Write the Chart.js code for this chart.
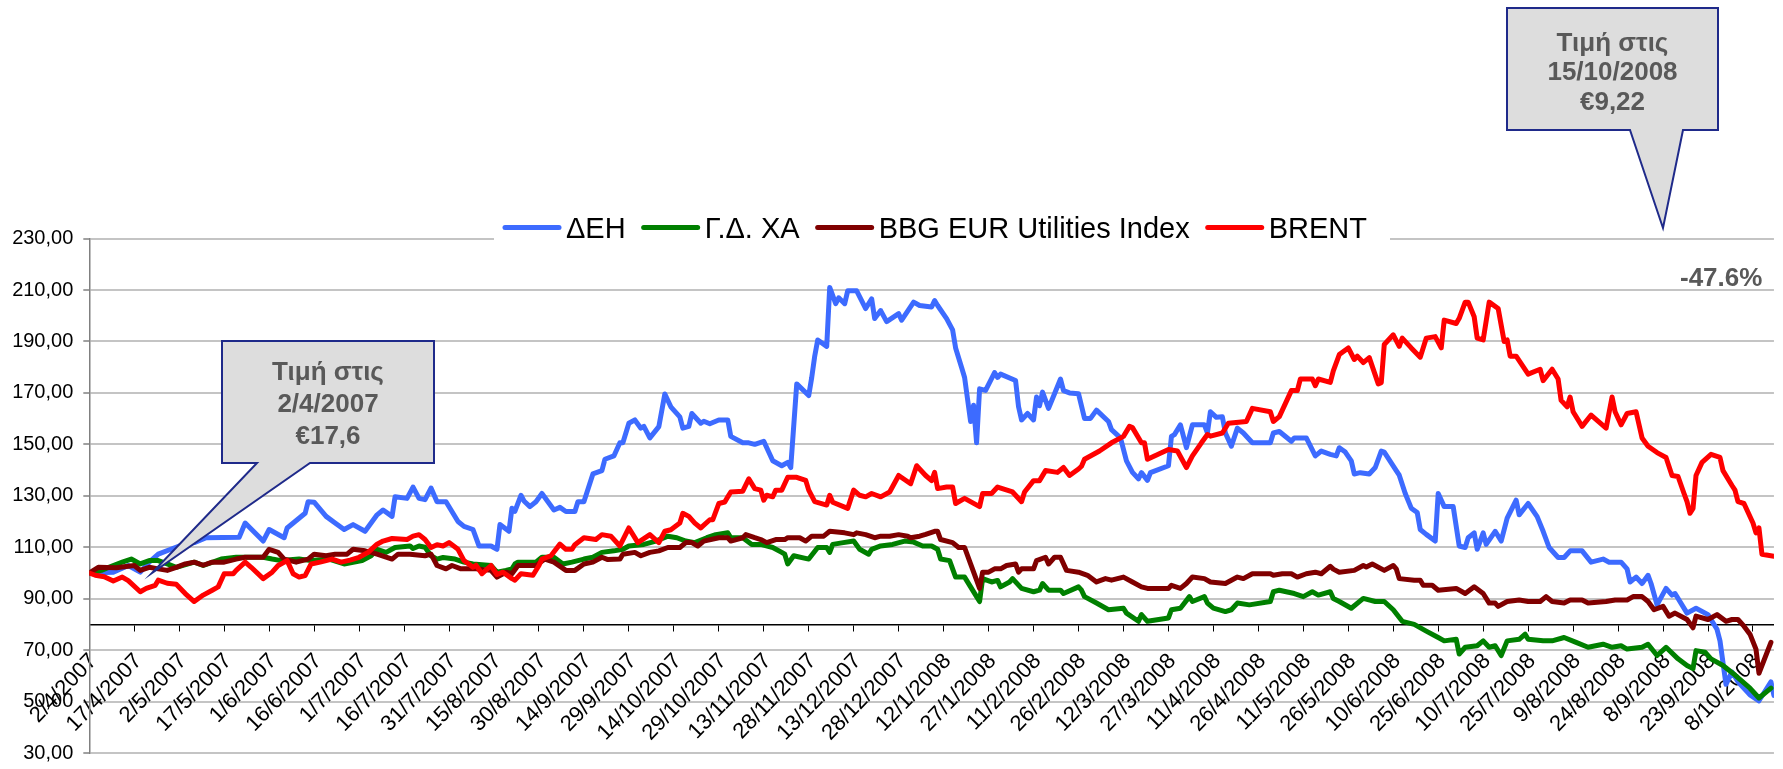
<!DOCTYPE html>
<html>
<head>
<meta charset="utf-8">
<script src="https://cdn.jsdelivr.net/npm/chart.js@4/dist/chart.umd.min.js"></script>
<style>
  html, body { margin: 0; padding: 0; background: #fff; overflow: hidden; }
  #wrap { width: 1783px; height: 769px; overflow: hidden; }
</style>
</head>
<body>
<div id="wrap"><canvas id="chart" width="1790" height="775"></canvas></div>
<script>
// x = calendar days after 2/4/2007, y = value rebased to 100
const tickLabels = ['2/4/2007', '17/4/2007', '2/5/2007', '17/5/2007', '1/6/2007', '16/6/2007', '1/7/2007',
  '16/7/2007', '31/7/2007', '15/8/2007', '30/8/2007', '14/9/2007', '29/9/2007', '14/10/2007', '29/10/2007',
  '13/11/2007', '28/11/2007', '13/12/2007', '28/12/2007', '12/1/2008', '27/1/2008', '11/2/2008', '26/2/2008',
  '12/3/2008', '27/3/2008', '11/4/2008', '26/4/2008', '11/5/2008', '26/5/2008', '10/6/2008', '25/6/2008',
  '10/7/2008', '25/7/2008', '9/8/2008', '24/8/2008', '8/9/2008', '23/9/2008', '8/10/2008'];

const seriesNames = ['ΔΕΗ', 'Γ.Δ. ΧΑ', 'BBG EUR Utilities Index', 'BRENT'];

const deh = [[0,100],[8,100.3],[13,102.9],[17,100.3],[20,104.2],[23,107.3],[30,110.5],[35,111.8],[39,113.7],
  [50,113.9],[52,119.4],[58,112.4],[60,116.9],[65,113.7],[66,117.5],[72,123.2],[73,127.7],[75,127.5],[79,122],
  [82,119.4],[85,116.9],[88,118.8],[92,116.2],[96,122.6],[98,124.5],[101,122],[102,129.6],[106,129],[108,133.4],
  [110,129],[112,128.5],[114,133],[116,127.7],[119,127.7],[123,120],[125,118.1],[128,116.9],[130,110.5],[134,110.5],
  [136,109.2],[137,118.8],[140,116.2],[141,125.2],[142,124],[144,130.2],[145,128],[147,125.8],[149,127.7],[151,130.9],
  [155,124.5],[157,125.5],[159,123.9],[162,123.9],[163,127.7],[165,127.7],[168,138.5],[171,139.8],[172,144.2],
  [175,145.5],[177,150.6],[178,150.6],[180,158.2],[182,159.5],[184,156.3],[185,157],[187,152.5],[190,156.9],
  [192,169.6],[194,164.6],[197,160.7],[198,156.3],[200,157],[201,162],[204,158.2],[205,159],[207,158],[210,159.5],
  [213,159.5],[214,153.1],[218,150.6],[220,150.6],[222,150],[225,151.2],[228,143.6],[231,141.7],[233,143],[234,141],
  [236,173.5],[240,169],[241,176],[242,184.3],[243,190.6],[246,188.1],[247,211],[249,204.7],[250,207],[252,204.7],
  [253,209.7],[256,209.7],[259,202.8],[261,206.6],[262,198.9],[264,202],[266,197.7],[270,200.8],[271,198.3],
  [275,205.3],[277,204],[281,203.4],[282,205.9],[283,204],[286,198.9],[288,194.5],[289,187.5],[291,179.9],
  [292,176],[294,158.9],[295,165.2],[296,150.6],[297,171.6],[299,171],[302,177.9],[303,176],[304,177.3],
  [309,174.8],[310,164.6],[311,159.5],[313,162],[315,159.5],[316,168.4],[317,165],[318,170.3],[320,164],
  [322,169.7],[324,175.4],[325,170.9],[327,170],[330,169.7],[332,160.1],[334,160.1],[336,163.3],[340,158.9],
  [341,155.7],[344,152.5],[346,143.6],[348,139.1],[350,136.6],[351,139],[353,136],[354,139],[360,141.7],
  [361,153.1],[362,153.8],[364,157.6],[366,148.7],[368,157.6],[372,157.6],[373,154.5],[374,162.7],[376,160.5],
  [378,160.7],[379,154.4],[381,149.3],[383,156.3],[385,154.4],[388,150.6],[394,150.6],[395,154.4],[397,155],
  [401,151.2],[402,152.5],[406,152.5],[409,145.5],[411,147.4],[414,146.1],[416,145.5],[417,148.7],[419,147],
  [421,143.6],[422,138.5],[424,139],[427,138.5],[429,141],[431,147.4],[432,147],[436,139.8],[437,138],[439,130.9],
  [441,125.2],[443,123.5],[444,116.9],[446,115],[449,112.4],[450,130.9],[452,125.8],[455,125.8],[457,110.5],
  [459,109.9],[460,113.7],[462,115.6],[463,109.2],[465,115.6],[466,111.1],[469,116.2],[471,112.4],[473,121.3],
  [476,128.3],[477,122.6],[480,127],[483,121.9],[485,116.2],[487,109.9],[490,106],[492,106],[494,108.6],
  [498,108.6],[501,104.2],[505,105.4],[507,104.2],[511,104.2],[513,101.6],[514,96.5],[516,98.4],[518,95.9],
  [520,99.1],[521,95.9],[523,87.6],[526,94],[528,91.4],[529,92],[533,84.4],[536,86.3],[540,83.8],[543,78.1],
  [544,73.6],[546,56.7],[548,61.5],[550,57.7],[554,52.6],[557,50.3],[561,57.7],[562,52.4]];

const gdxa = [[0,100],[4,101],[8,102.9],[11,104.2],[14,105.4],[17,103.5],[20,104.8],[23,104.8],[26,103.5],
  [29,102.2],[35,104.2],[38,102.9],[44,105.4],[49,106.1],[58,106.1],[61,105.4],[64,104.8],[70,105.4],[74,104.8],
  [80,105.4],[85,103.5],[91,104.8],[94,106.7],[96,109.2],[99,108],[102,109.9],[107,110.5],[108,109.5],[110,110.5],
  [112,110],[114,106.7],[116,105.4],[118,106],[122,105.4],[125,104.2],[128,103.5],[134,102.9],[136,100.3],
  [139,101],[141,101.6],[142,103.5],[143,104.2],[149,104.2],[151,106.1],[155,106.1],[158,103.5],[161,104.2],
  [165,105.4],[168,106.1],[171,108],[175,108.6],[178,109.2],[180,110.5],[185,111.1],[189,112.4],[193,114.3],
  [196,113.7],[199,112.4],[202,111.8],[206,113.7],[209,114.9],[213,115.6],[214,113.7],[218,113.7],[221,111.1],
  [224,111.1],[228,109.9],[231,108],[232,107.3],[233,103.5],[235,106.7],[240,105.4],[243,109.9],[246,109.9],
  [247,108],[248,111.1],[251,111.7],[255,112.4],[257,109.2],[260,107.3],[261,109.2],[264,110.5],[268,111.1],
  [272,112.4],[275,112],[278,110.5],[281,110.5],[283,109.2],[284,105.4],[287,104.8],[289,98.4],[292,98.4],
  [294,94.6],[296,90.8],[297,88.9],[298,97.8],[301,96.5],[303,97.1],[304,94.6],[307,96.5],[308,97.8],[311,94],
  [315,92.7],[317,93.3],[318,95.9],[320,93.3],[324,93.3],[325,92],[330,94.6],[331,93.3],[332,90.8],[336,88.3],
  [340,85.7],[345,86.3],[346,84.4],[350,81.2],[351,83.8],[353,81.2],[360,82.5],[361,85.7],[364,86.3],[367,90.8],
  [368,88.9],[372,90.8],[373,88.3],[375,86.3],[379,85],[381,85.7],[383,88.3],[387,87.6],[394,88.9],[395,92.7],
  [397,93.3],[402,92],[405,90.8],[408,92.7],[410,91.4],[414,92.7],[415,90.1],[417,88.9],[421,86.3],[425,90.1],
  [429,88.9],[432,88.9],[435,85.7],[438,81.2],[442,80],[446,77.4],[450,74.9],[452,73.6],[456,74.2],[457,68.5],
  [459,71.1],[463,71.7],[465,73.6],[467,71.1],[469,71.7],[471,67.9],[473,73.6],[477,74.2],[479,76.2],[480,74.2],
  [485,73.6],[488,73.6],[492,74.9],[496,73],[500,71.1],[505,72.3],[508,71.1],[511,71.7],[513,70.4],[518,71.1],
  [520,72.3],[523,67.9],[526,71.1],[530,66.6],[533,64],[535,62.8],[536,69.8],[539,69.2],[541,66.6],[545,64],
  [549,60.3],[554,55.2],[557,51.4],[561,55.2]];

const bbg = [[0,100],[3,102.2],[9,102],[15,102.9],[17,101],[20,102.2],[23,101.6],[26,101],[29,102.2],[32,103.5],
  [35,104.2],[38,103],[41,104.2],[45,104.2],[49,105.4],[52,106.1],[58,106.1],[60,109.2],[63,108],[65,105.4],
  [69,104.2],[73,105.4],[75,107.3],[79,106.7],[82,107.3],[86,107.3],[88,109.2],[92,108.6],[94,108],[96,107.3],
  [101,105.4],[103,107.3],[107,107.3],[112,106.7],[114,107.3],[116,102.9],[119,101.6],[121,102.9],[124,101.6],
  [129,101.6],[134,101],[136,98.4],[139,100.3],[141,99.7],[143,102.9],[149,102.9],[152,105.4],[155,104.2],
  [159,101],[162,101],[165,103.5],[168,104.2],[171,106.1],[173,105.2],[177,105.4],[178,107.3],[182,108],
  [184,106.7],[187,108],[190,108.6],[193,109.9],[197,109.9],[199,111.8],[201,111.8],[203,110.5],[205,112.4],
  [210,113.7],[213,113.7],[214,112.4],[218,113.7],[219,114.9],[222,113.7],[224,113],[226,111.8],[229,113],
  [232,113],[233,113.7],[237,113.7],[239,112.4],[241,114.3],[245,114.3],[247,116.2],[252,115.6],[255,114.9],
  [256,115.6],[259,114.9],[262,113.7],[264,114.3],[267,114.3],[270,114.9],[273,114.3],[274,113.7],[277,114.3],
  [279,115],[282,116.2],[283,116.2],[284,113],[288,111.8],[290,109.9],[292,109.9],[294,103.5],[296,97.2],
  [297,94],[298,100.3],[300,100.3],[302,101.6],[304,101.6],[306,102.9],[309,103.5],[310,100.3],[311,101.6],
  [315,101.6],[316,104.8],[319,106.1],[320,103.5],[322,106.1],[324,106.1],[326,101],[330,100.3],[333,99.1],
  [336,96.5],[339,97.8],[341,97.2],[345,98.4],[348,96.5],[351,94.6],[353,94],[360,94],[361,95.2],[364,94],
  [366,95.9],[368,98.4],[372,97.8],[374,96.5],[379,95.9],[383,98.4],[385,97.8],[388,99.7],[394,99.7],[395,99.1],
  [398,99.7],[401,99.7],[403,98.4],[406,99.7],[409,100.3],[411,99.7],[414,102.6],[415,101.5],[417,100.3],
  [422,101],[425,102.9],[426,102.3],[428,103.5],[432,101],[435,102.9],[436,101.6],[437,97.8],[442,97.2],
  [444,97.2],[445,95.2],[448,95.2],[450,93.3],[456,94],[459,92],[462,94.6],[465,92],[467,88.3],[469,88.3],
  [470,87],[473,88.9],[477,89.5],[480,88.9],[484,88.9],[486,90.8],[488,88.9],[492,88.3],[494,89.5],[498,89.5],
  [500,88.3],[506,88.9],[509,89.5],[513,89.5],[515,90.8],[518,90.8],[520,88.9],[522,85.7],[525,87],[527,83.2],
  [529,84.4],[533,81.9],[535,78.7],[536,83.2],[540,81.9],[543,83.8],[546,81.2],[548,81.9],[550,81.9],[552,79.3],
  [554,76.2],[556,70.4],[557,61],[561,73]];

const brent = [[0,100],[2,99.1],[5,98.5],[8,96.9],[11,98.4],[13,97],[17,92.7],[19,94],[22,95.2],[23,97.2],
  [26,96],[29,95.6],[32,92],[35,88.9],[38,91.4],[41,93.3],[43,94.6],[45,99.7],[48,99.7],[49,101],[52,104.2],
  [54,102.2],[58,97.8],[61,100.3],[63,102.9],[66,104.8],[68,99.7],[70,98.4],[72,99],[74,103.5],[77,104.2],
  [81,105.4],[84,104.2],[87,105],[90,106.1],[93,108],[96,111.2],[98,112.4],[101,113.4],[106,113],[108,114.3],
  [110,114.9],[112,113],[114,109.9],[116,111],[118,110.5],[120,111.8],[123,109.2],[125,104.8],[128,102.2],
  [129,103],[131,99.7],[134,102.9],[136,99.4],[138,100.3],[141,97.8],[142,97.2],[144,99.7],[148,99.1],
  [150,102.9],[151,105.4],[154,106.7],[157,111.2],[159,109.2],[161,109.2],[162,111],[165,113.7],[169,113],
  [171,114.9],[174,114.3],[177,110.5],[180,117.5],[183,111.8],[187,114.9],[190,111.8],[192,116.2],[194,116.8],
  [197,119.4],[198,123.2],[200,122],[202,119.4],[204,117.5],[207,120.7],[208,120.7],[210,127],[212,127.6],
  [213,129.6],[214,131.5],[218,131.8],[220,136.6],[222,132.8],[224,132.2],[225,128.3],[226,130.2],[228,129.6],
  [229,132.2],[231,132.2],[233,137.2],[236,137.2],[239,136],[240,132.2],[242,127.7],[246,126.4],[247,130.2],
  [248,127.5],[253,125.1],[255,132.2],[257,130.2],[259,129.6],[261,130.9],[264,129.6],[267,131.5],[270,137.9],
  [274,134.7],[276,141.7],[279,137.9],[281,135.9],[282,139.1],[283,132.8],[286,133.4],[288,133.4],[289,127],
  [292,129],[297,125.8],[298,130.9],[301,130.9],[303,133.4],[308,131.5],[311,127.7],[312,131.5],[315,135.9],
  [317,135.9],[319,139.8],[323,139.1],[325,141],[327,137.9],[330,140.4],[331,141.5],[332,144.2],[337,147.4],
  [341,150.6],[345,153.1],[347,157],[348,156.5],[351,150.6],[352,150.6],[353,144.2],[360,148],[363,147.4],
  [366,141],[368,145.5],[371,150.6],[373,153.8],[374,153.2],[378,154.4],[380,158.2],[386,158.9],[388,164],
  [394,162.7],[395,158.9],[397,160.8],[401,170.9],[403,170.9],[404,175.4],[408,175.4],[409,172.8],[410,175.4],
  [414,174.1],[415,178.6],[417,184.9],[420,187.5],[422,183],[423,184.3],[425,181.8],[427,183.7],[430,173.5],
  [431,174],[432,188.8],[435,192.6],[437,188.1],[438,191.3],[441,187.5],[444,183.9],[446,191.3],[449,191.9],
  [451,187.5],[452,198.3],[456,197],[457,199],[459,205.3],[460,205.3],[462,199.6],[463,191.3],[465,190.6],
  [467,205.3],[470,202.8],[472,190],[473,190.6],[474,184.3],[476,184.3],[480,177.3],[484,179.2],[485,174.8],
  [488,179.2],[490,175.4],[491,167.1],[493,164.6],[494,168.4],[495,162.7],[498,157],[501,161.4],[506,156.3],
  [508,168.4],[509,162.7],[511,157.6],[513,162],[516,162.7],[518,152.5],[520,149.3],[523,146.8],[526,144.9],
  [528,137.9],[530,137.5],[532,130.9],[533,127.7],[534,123.2],[535,125.1],[536,137.9],[538,143],[541,146.1],
  [544,144.9],[545,139.8],[548,134],[549,132.2],[550,127.7],[552,127],[555,119.4],[556,115.6],[557,117.5],
  [558,107.3],[562,106.5]];

const seriesData = [deh, gdxa, bbg, brent];
const seriesColors = ['#3d6bff', '#008000', '#800000', '#ff0000'];

const FONT = "'Liberation Sans', Arial, sans-serif";

// legend drawn over the top gridline, like the original
const legendPlugin = {
  id: 'topLegend',
  afterDraw(chart) {
    const ctx = chart.ctx;
    ctx.save();
    ctx.fillStyle = '#fff';
    ctx.fillRect(494, 208, 896, 38);
    ctx.font = '29px ' + FONT;
    ctx.textBaseline = 'alphabetic';
    let x = 503;
    chart.data.datasets.forEach(ds => {
      ctx.strokeStyle = ds.borderColor;
      ctx.lineWidth = 5;
      ctx.lineCap = 'round';
      ctx.beginPath();
      ctx.moveTo(x + 2, 227.5);
      ctx.lineTo(x + 56, 227.5);
      ctx.stroke();
      x += 63;
      ctx.fillStyle = '#000';
      ctx.fillText(ds.label, x, 238);
      x += ctx.measureText(ds.label).width + 16;
    });
    ctx.restore();
  }
};

function drawCallout(ctx, box, base, tip, lines, baselines) {
  ctx.save();
  ctx.beginPath();
  ctx.moveTo(box.l, box.t);
  ctx.lineTo(box.r, box.t);
  ctx.lineTo(box.r, box.b);
  ctx.lineTo(base[1], box.b);
  ctx.lineTo(tip[0], tip[1]);
  ctx.lineTo(base[0], box.b);
  ctx.lineTo(box.l, box.b);
  ctx.closePath();
  ctx.fillStyle = '#dddddd';
  ctx.fill();
  ctx.strokeStyle = '#1f2a8a';
  ctx.lineWidth = 2;
  ctx.lineJoin = 'miter';
  ctx.stroke();
  ctx.fillStyle = '#595959';
  ctx.font = 'bold 26px ' + FONT;
  ctx.textAlign = 'center';
  const cx = (box.l + box.r) / 2;
  lines.forEach((t, i) => ctx.fillText(t, cx, baselines[i]));
  ctx.restore();
}

const calloutPlugin = {
  id: 'callouts',
  afterDraw(chart) {
    const ctx = chart.ctx;
    drawCallout(ctx, {l: 222, t: 341, r: 434, b: 463}, [257, 310], [152, 573],
      ['Τιμή στις', '2/4/2007', '€17,6'], [380, 412, 444]);
    drawCallout(ctx, {l: 1507, t: 8, r: 1718, b: 130}, [1630, 1683], [1663, 228],
      ['Τιμή στις', '15/10/2008', '€9,22'], [51, 80, 110]);
    ctx.save();
    ctx.fillStyle = '#595959';
    ctx.font = 'bold 26px ' + FONT;
    ctx.fillText('-47.6%', 1680, 286);
    ctx.restore();
  }
};

const datasets = seriesData.map((s, i) => ({
  label: seriesNames[i],
  data: s.map(p => ({x: p[0], y: p[1]})),
  borderColor: seriesColors[i],
  backgroundColor: seriesColors[i],
  borderWidth: 5,
  pointRadius: 0,
  tension: 0,
  fill: false,
  borderJoinStyle: 'round',
  borderCapStyle: 'round',
  order: seriesData.length - i
}));

new Chart(document.getElementById('chart').getContext('2d'), {
  type: 'line',
  data: { datasets },
  options: {
    responsive: false,
    animation: false,
    layout: { padding: { top: 238.6, right: 3.2, bottom: 12.4, left: 0 } },
    plugins: {
      legend: { display: false },
      tooltip: { enabled: false }
    },
    scales: {
      x: {
        type: 'linear',
        min: 0,
        max: 562,
        position: { y: 80 },
        grid: { drawOnChartArea: false, drawTicks: true, tickLength: 6, color: '#000', lineWidth: 1 },
        border: { display: true, color: '#000', width: 1.5 },
        ticks: {
          stepSize: 15,
          includeBounds: false,
          autoSkip: false,
          minRotation: 46,
          maxRotation: 46,
          padding: 18,
          labelOffset: 4,
          color: '#000',
          font: { family: FONT, size: 22 },
          callback: (v) => tickLabels[Math.round(v / 15)] || ''
        }
      },
      y: {
        min: 30,
        max: 230,
        afterFit: (scale) => { scale.width = 89.3; },
        grid: { color: '#c4c4c4', lineWidth: 2, tickLength: 6, tickColor: '#808080', tickWidth: 1.5 },
        border: { display: true, color: '#808080', width: 1.5 },
        ticks: {
          stepSize: 20,
          padding: 10,
          color: '#000',
          font: { family: FONT, size: 20 },
          callback: (v) => v.toFixed(2).replace('.', ',')
        }
      }
    }
  },
  plugins: [legendPlugin, calloutPlugin]
});
</script>
</body>
</html>
